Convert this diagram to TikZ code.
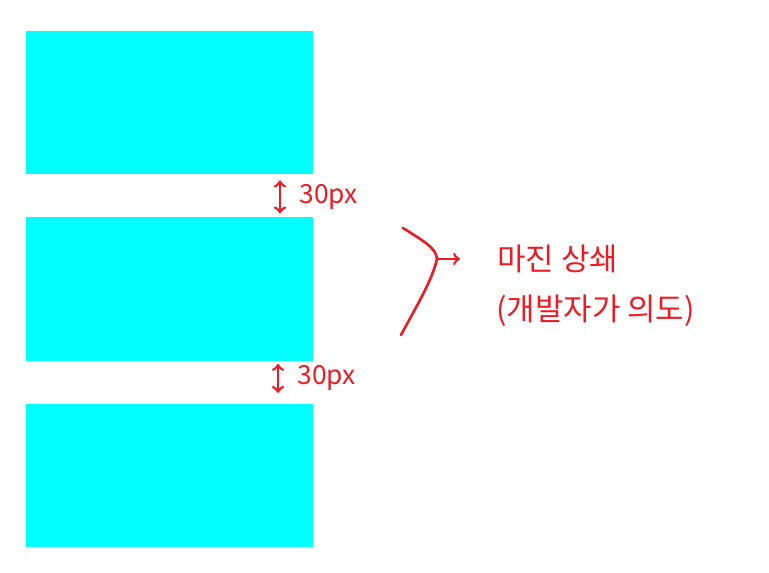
\documentclass[tikz,border=0pt]{standalone}
\usepackage{fontspec}
\usepackage{tikz}
\usetikzlibrary{arrows, positioning, calc}
\newfontfamily\kofont{Noto Sans CJK KR}
\definecolor{boxcolor}{RGB}{0,255,255}
\definecolor{inkcolor}{RGB}{237,28,36}
\tikzset{
  panel/.style={rectangle, fill=boxcolor, draw=none, minimum width=5.74cm,
                minimum height=2.87cm, inner sep=0pt, outer sep=0pt,
                anchor=north west},
  arrow/.style={-to, line width=1.5pt, draw=inkcolor},
  darrow/.style={to-to, line width=1.5pt, draw=inkcolor},
  stroke/.style={line width=1.5pt, draw=inkcolor, line cap=round},
  label/.style={font=\kofont\fontsize{15}{17}\selectfont, text=inkcolor},
  note/.style={font=\kofont\fontsize{17.6}{20}\selectfont, text=inkcolor,
               anchor=west, inner sep=0pt},
}
\begin{document}
\begin{tikzpicture}[x=0.02cm, y=-0.02cm]
  \useasboundingbox (0,0) rectangle (769,573);

  \node[panel] (box1) at (26,31) {};
  \node[panel, below=0.86cm of box1] (box2) {};
  \node[panel, below=0.86cm of box2] (box3) {};

  % gaps
  \draw[darrow] ([shift={(254,6)}]box1.south west)
    -- node[label, right=0.25cm] {30px} ([shift={(254,-4)}]box2.north west);
  \draw[darrow] ([shift={(252,3)}]box2.south west)
    -- node[label, right=0.25cm] {30px} ([shift={(252,-11)}]box3.north west);

  % brace
  \coordinate (fork) at (437,259);
  \coordinate (tip) at (460,259);
  \draw[stroke] (403,228) .. controls (425,242) and (436,248) .. (fork);
  \draw[stroke] (fork) .. controls (432,280) and (420,300) .. (401,335);
  \draw[arrow] (fork) -- (tip);

  \node[note] (title) at (497,259) {마진 상쇄};
  \node[note] (intent) at (496,311) {(개발자가 의도)};

\end{tikzpicture}
\end{document}
